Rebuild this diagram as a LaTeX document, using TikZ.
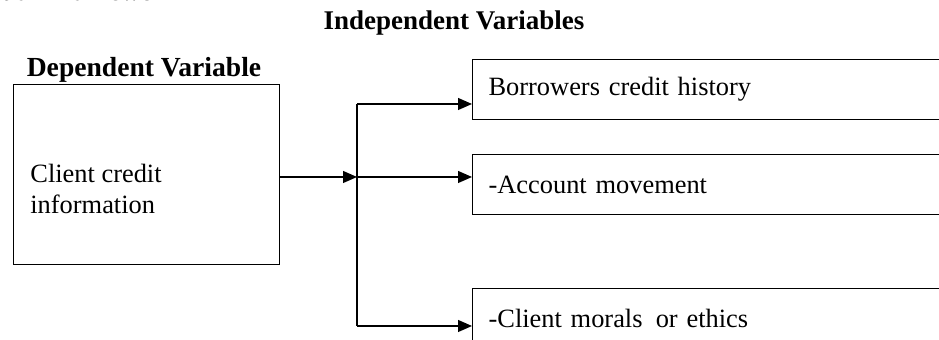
\documentclass[tikz,border=0pt]{standalone}
\usepackage{fontspec}
\setmainfont{Liberation Serif}
\usetikzlibrary{arrows.meta,positioning}

\begin{document}
\begin{tikzpicture}[x=0.5pt, y=-0.5pt, font=\fontsize{13.2}{15.5}\selectfont, line join=miter, >={Triangle[length=7pt,width=6pt]},
	head/.style={font=\fontsize{13.5}{15}\bfseries},
	varbox/.style={draw, line width=0.6pt, minimum height=30pt, inner xsep=8pt, text width=229pt, align=left, anchor=north west},
	link/.style={->, line width=0.6pt}]
		\useasboundingbox (0,0) rectangle (939,340);
		\clip (0,0) rectangle (939,340);
		% headings
		\node[head, anchor=base east] (title) at (188,1) {Conceptual Framework};
		\node[head] (indep) at (454,23) {Independent Variables};
		\node[head, font=\fontsize{13.8}{15}\bfseries] (dep) at (144,70) {Dependent Variable};
		% dependent box
		\node[draw, line width=0.6pt, minimum width=133pt, minimum height=90pt, anchor=north west] (client) at (13,84) {};
		\node[align=left, anchor=west, inner sep=0pt] (clienttxt) at (30,189) {Client credit\\information};
		% independent boxes
		\node[varbox] (b1) at (472,59) {Borrowers credit history};
		\node[varbox] (b2) at (472,154) {-Account movement};
		\node[varbox] (b3) at (472,288) {-Client morals\, or ethics};
		% connectors
		\coordinate (hub) at (357,177);
		\coordinate (top) at (357,104);
		\coordinate (bot) at (357,326);
		\draw[link] (client.east |- hub) -- (hub);
		\draw[line width=0.6pt] (top) -- (bot);
		\foreach \b/\c in {b1/top, b2/hub, b3/bot}
		\draw[link] (\c) -- (\b.west |- \c);
	\end{tikzpicture}
\end{document}
